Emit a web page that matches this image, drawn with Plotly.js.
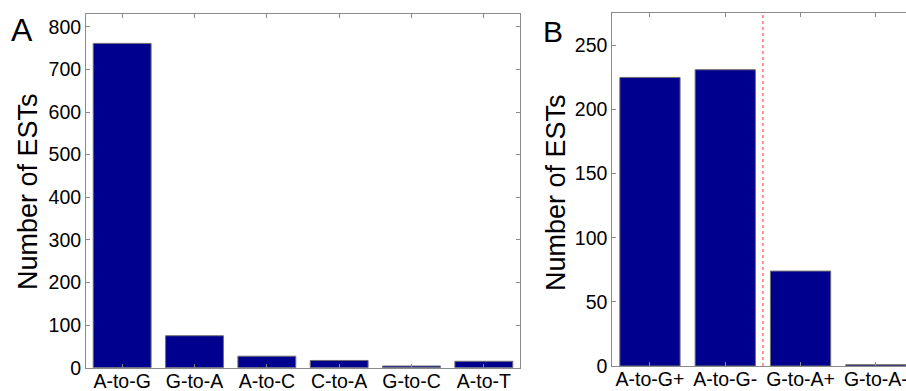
<!DOCTYPE html>
<html>
<head>
<meta charset="utf-8">
<script src="https://cdn.plot.ly/plotly-3.0.1.min.js"></script>
<style>html,body{margin:0;padding:0;background:#fff;}#chart{width:906px;height:391px;}</style>
</head>
<body>
<div id="chart"></div>
<script>
// Panel A data
const catsA = ["A-to-G", "G-to-A", "A-to-C", "C-to-A", "G-to-C", "A-to-T"];
const valsA = [761, 75, 27, 17, 4, 15];
// Panel B data
const catsB = ["A-to-G+", "A-to-G-", "G-to-A+", "G-to-A-"];
const valsB = [225, 231, 74, 1];
const ticksA = [0, 100, 200, 300, 400, 500, 600, 700, 800];
const ticksB = [0, 50, 100, 150, 200, 250];

const barColor = "#00008F";
const edgeColor = "#6e6e6e";
const axisColor = "#8a8a8a";
const font = "Liberation Sans, Arial, sans-serif";

const posA = catsA.map((c, i) => i + 1);
const posB = catsB.map((c, i) => i + 1);

const traces = [
  {type: "bar", x: posA, y: valsA, width: 0.8, xaxis: "x", yaxis: "y",
   marker: {color: barColor, line: {color: edgeColor, width: 1}}, hoverinfo: "skip"},
  {type: "bar", x: posB, y: valsB, width: 0.8, xaxis: "x2", yaxis: "y2",
   marker: {color: barColor, line: {color: edgeColor, width: 1}}, hoverinfo: "skip"}
];

const tickFont = {family: font, size: 19.5, color: "#000"};
const common = {showgrid: false, zeroline: false, showline: true, linecolor: axisColor, linewidth: 1,
  ticks: "inside", ticklen: 4, tickcolor: axisColor, tickfont: tickFont, fixedrange: true,
  ticklabeloverflow: "allow"};

const layout = {
  width: 906, height: 391,
  margin: {l: 0, r: 0, t: 0, b: 0},
  paper_bgcolor: "#fff", plot_bgcolor: "#fff",
  showlegend: false,
  xaxis: Object.assign({}, common, {domain: [86/906, 520/906], range: [0.5, 6.5], anchor: "y",
    tickmode: "array", tickvals: posA, ticktext: catsA, mirror: "ticks", ticklabelstandoff: -4}),
  yaxis: Object.assign({}, common, {domain: [(391-367.7)/391, (391-14)/391], range: [0, 830], anchor: "x",
    tickmode: "array", tickvals: ticksA, ticktext: ticksA.map(String), mirror: "ticks"}),
  xaxis2: Object.assign({}, common, {domain: [612.3/906, 1], range: [0.5, 4.4], anchor: "y2",
    tickmode: "array", tickvals: posB, ticktext: catsB, mirror: "ticks", ticklabelstandoff: -4}),
  yaxis2: Object.assign({}, common, {domain: [(391-366)/391, (391-13.3)/391], range: [0, 275], anchor: "x2",
    tickmode: "array", tickvals: ticksB, ticktext: ticksB.map(String)}),
  shapes: [
    {type: "line", xref: "x2", yref: "y2 domain", x0: 2.5, x1: 2.5, y0: 0, y1: 1,
     line: {color: "#ff3030", width: 1, dash: "dot"}}
  ],
  annotations: [
    {text: "A", xref: "paper", yref: "paper", x: 21.5/906, y: 1 - 30/391, showarrow: false,
     xanchor: "center", yanchor: "middle", font: {family: font, size: 32, color: "#000"}},
    {text: "B", xref: "paper", yref: "paper", x: 553/906, y: 1 - 32/391, showarrow: false,
     xanchor: "center", yanchor: "middle", font: {family: font, size: 30, color: "#000"}},
    {text: "Number of ESTs", xref: "paper", yref: "paper", x: 28/906, y: 1 - 192/391, showarrow: false,
     textangle: -90, xanchor: "center", yanchor: "middle", font: {family: font, size: 27, color: "#000"}},
    {text: "Number of ESTs", xref: "paper", yref: "paper", x: 556/906, y: 1 - 193/391, showarrow: false,
     textangle: -90, xanchor: "center", yanchor: "middle", font: {family: font, size: 27, color: "#000"}}
  ]
};

Plotly.newPlot("chart", traces, layout, {displayModeBar: false, staticPlot: true});
</script>
</body>
</html>
